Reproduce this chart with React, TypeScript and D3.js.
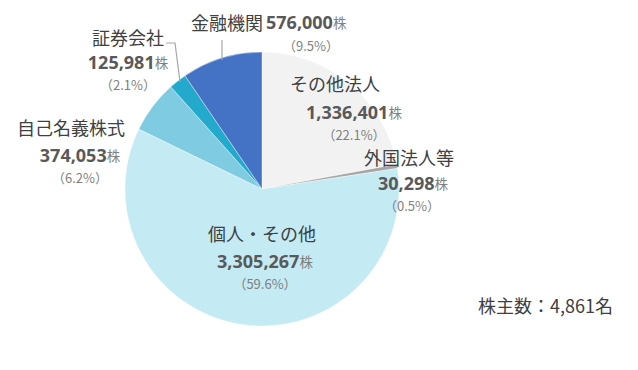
import React from "react";
import * as d3 from "d3";

const categories = ["その他法人", "外国法人等", "個人・その他", "自己名義株式", "証券会社", "金融機関"];
const shares = ["1,336,401", "30,298", "3,305,267", "374,053", "125,981", "576,000"];
const percents = [22.1, 0.5, 59.6, 6.2, 2.1, 9.5];
const colors = ["#F2F2F2", "#A5A5A5", "#C4EAF4", "#7ECBE2", "#22A9CC", "#4472C4"];
const totalHolders = "株主数：4,861名";

const W = 638;
const H = 370;
const cx = 262;
const cy = 189;
const R = 137;

const FONT = "'Noto Sans CJK JP', 'Noto Sans', sans-serif";
const NUMFONT = "'Noto Sans', 'Noto Sans CJK JP', sans-serif";
const C_LABEL = "#404040";
const C_NUM = "#595959";
const C_SUB = "#7F7F7F";

type LabelPos = { cx: number; cy: number; nx: number; ny: number; px: number; py: number };
// label layout (positions only)
const labelPos: LabelPos[] = [
  { cx: 335, cy: 83, nx: 354, ny: 112, px: 354, py: 134 },
  { cx: 409, cy: 157, nx: 413, ny: 183, px: 412, py: 205 },
  { cx: 262, cy: 233, nx: 265, ny: 261, px: 265, py: 283 },
  { cx: 71, cy: 127, nx: 80, ny: 155, px: 80, py: 177 },
  { cx: 128, cy: 37, nx: 128, ny: 62, px: 128, py: 84 },
  { cx: 0, cy: 0, nx: 0, ny: 0, px: 311, py: 45 },
];

export default function App() {
  const pie = d3.pie<number>().sort(null).value((d) => d)(percents);
  const arc = d3.arc<d3.PieArcDatum<number>>().innerRadius(0).outerRadius(R);

  const numLabel = (i: number, x: number, y: number, anchor: string) => (
    <text x={x} y={y} textAnchor={anchor} dominantBaseline="central">
      <tspan fontFamily={NUMFONT} fontWeight="bold" fontSize={18} fill={C_NUM}>{shares[i]}</tspan>
      <tspan fontFamily={FONT} fontSize={13.5} fill={C_SUB}>株</tspan>
    </text>
  );
  const pctLabel = (i: number, x: number, y: number) => (
    <text x={x} y={y} textAnchor="middle" dominantBaseline="central" fontFamily={FONT} fontSize={13} fill={C_SUB}>
      {`（${percents[i].toFixed(1)}%）`}
    </text>
  );

  return (
    <svg width={W} height={H} style={{ position: "absolute", left: 0, top: 0, background: "#fff" }}>
      <g transform={`translate(${cx},${cy})`}>
        {pie.map((d, i) => (
          <path key={i} d={arc(d) || ""} fill={colors[i]} stroke="#fff" strokeWidth={0.4} />
        ))}
      </g>
      {/* leader lines */}
      <line x1={222} y1={40} x2={222} y2={60} stroke="#A6A6A6" strokeWidth={1.2} />
      <polyline points="166,43 175,43 180,82" fill="none" stroke="#A6A6A6" strokeWidth={1.2} />

      {labelPos.map((p, i) => {
        if (i === 5) return null;
        return (
          <g key={i}>
            <text x={p.cx} y={p.cy} textAnchor="middle" dominantBaseline="central" fontFamily={FONT} fontSize={18} fill={C_LABEL}>
              {categories[i]}
            </text>
            {numLabel(i, p.nx, p.ny, "middle")}
            {pctLabel(i, p.px, p.py)}
          </g>
        );
      })}
      {/* 金融機関 (single line) */}
      <text x={191} y={22} dominantBaseline="central">
        <tspan fontFamily={FONT} fontSize={18} fill={C_LABEL}>{categories[5]}</tspan>
        <tspan dx={3} fontFamily={NUMFONT} fontWeight="bold" fontSize={18} fill={C_NUM}>{shares[5]}</tspan>
        <tspan fontFamily={FONT} fontSize={13.5} fill={C_SUB}>株</tspan>
      </text>
      {pctLabel(5, labelPos[5].px, labelPos[5].py)}

      <text x={478} y={305} dominantBaseline="central" fontFamily={FONT} fontSize={18} fill={C_LABEL}>
        {totalHolders}
      </text>
    </svg>
  );
}
